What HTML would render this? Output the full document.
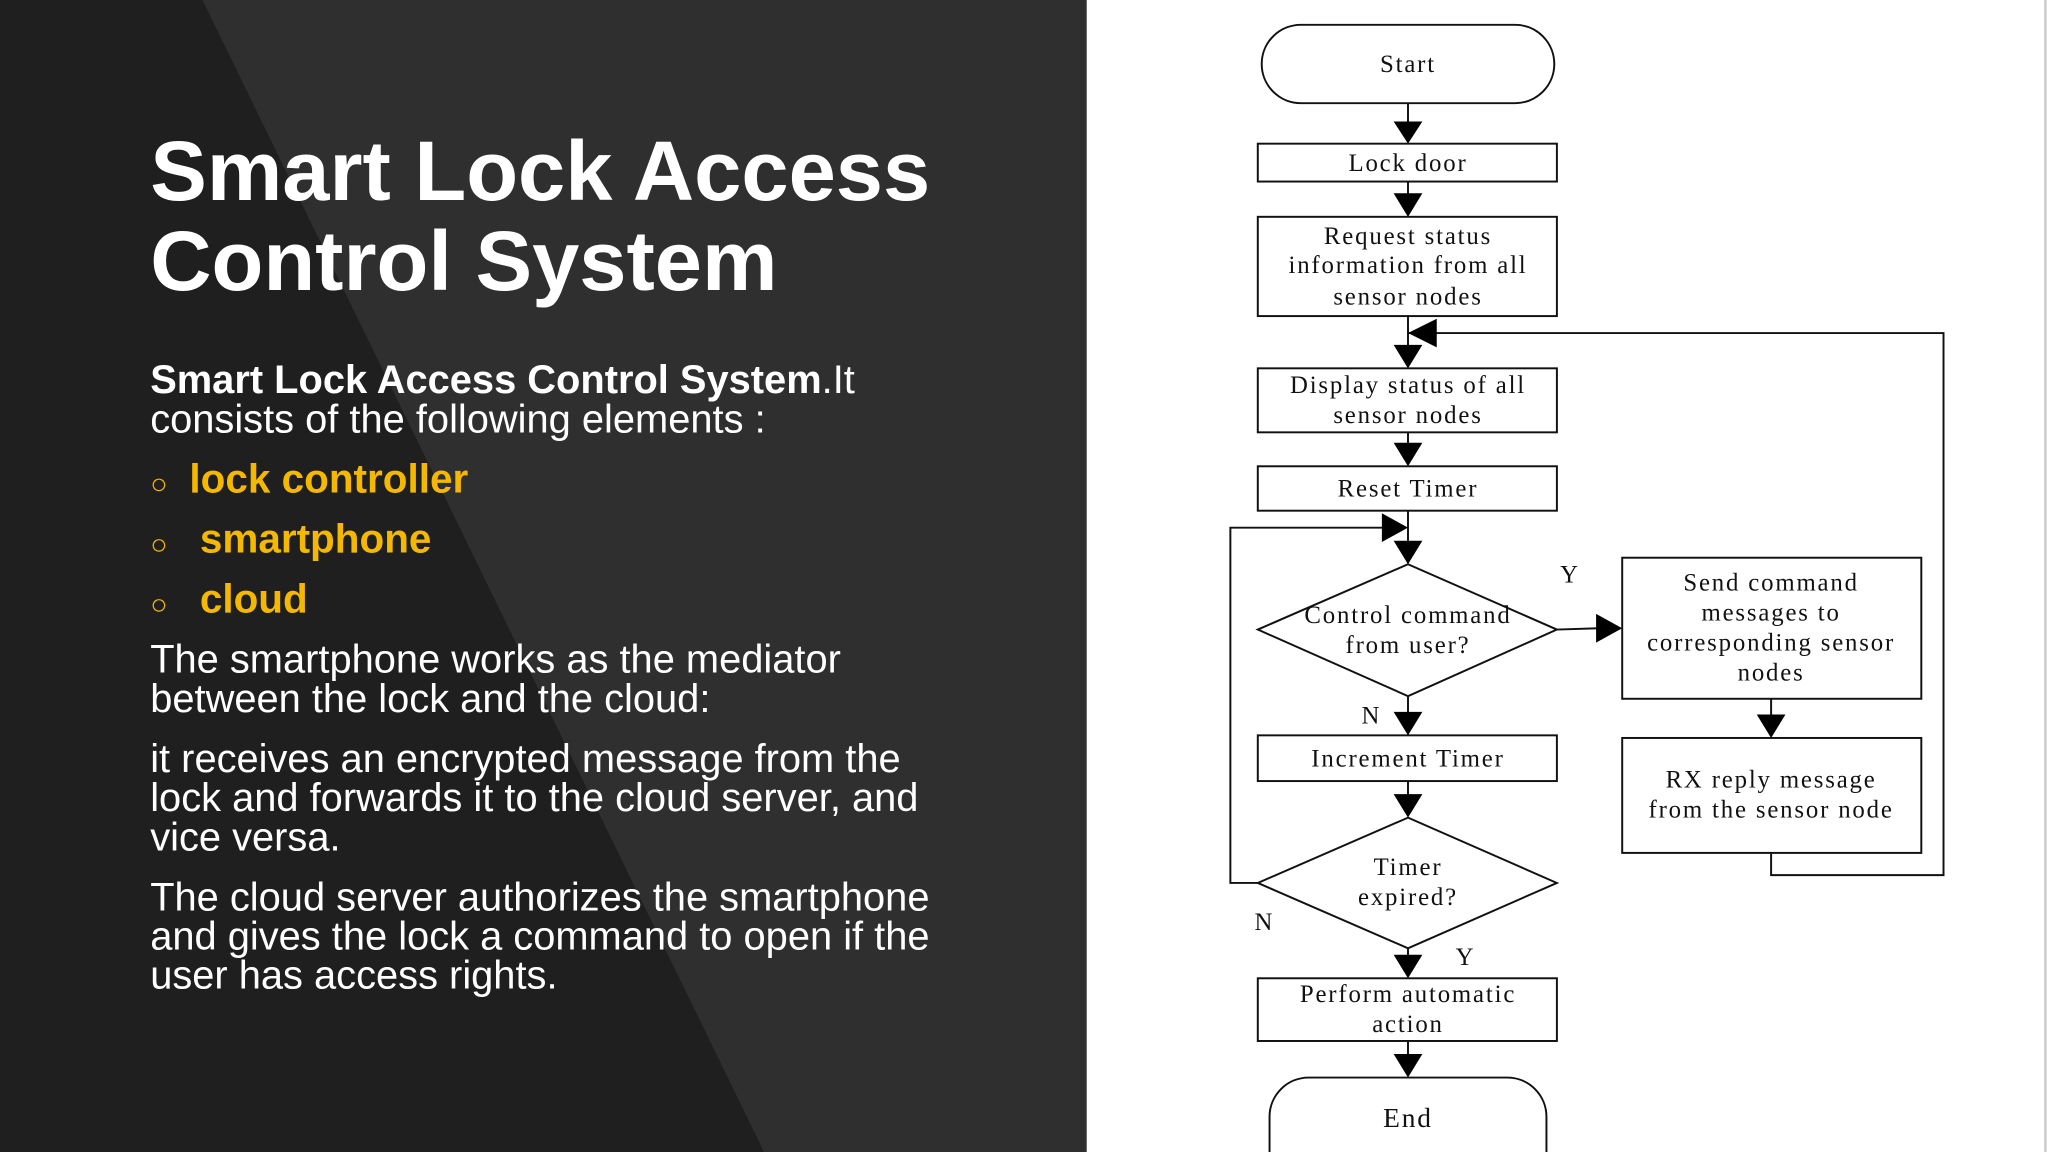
<!DOCTYPE html>
<html><head><meta charset="utf-8"><style>html,body{margin:0;padding:0;background:#fff}svg{display:block}</style></head><body>
<svg width="2048" height="1152" viewBox="0 0 1568 882" xmlns="http://www.w3.org/2000/svg">
<rect x="0" y="0" width="1568" height="882" fill="#ffffff"/>
<rect x="0" y="0" width="832" height="882" fill="#2f2f2f"/>
<polygon points="0,0 155,0 585,882 0,882" fill="#1f1f1f"/>
<line x1="1566" y1="0" x2="1566" y2="882" stroke="#cfcfcf" stroke-width="2"/>
<g font-family="'Liberation Sans',Arial,sans-serif" fill="#fff">
<text x="115" y="153" font-size="65" font-weight="bold">Smart Lock Access</text>
<text x="115" y="222" font-size="65" font-weight="bold">Control System</text>
<text x="115" y="301" font-size="30.5"><tspan font-weight="bold">Smart Lock Access Control System</tspan>.It</text>
<text x="115" y="331" font-size="30.5">consists of the following elements :</text>
<g fill="#f5b800"><text x="115" y="378" font-size="22">○</text><text x="145" y="377" font-size="31" font-weight="bold">lock controller</text>
<text x="115" y="424" font-size="22">○</text><text x="153" y="423" font-size="31" font-weight="bold">smartphone</text>
<text x="115" y="470" font-size="22">○</text><text x="153" y="469" font-size="31" font-weight="bold">cloud</text></g>
<text x="115" y="515" font-size="30.5">The smartphone works as the mediator</text>
<text x="115" y="545" font-size="30.5">between the lock and the cloud:</text>
<text x="115" y="591" font-size="30.5">it receives an encrypted message from the</text>
<text x="115" y="621" font-size="30.5">lock and forwards it to the cloud server, and</text>
<text x="115" y="651" font-size="30.5">vice versa.</text>
<text x="115" y="697" font-size="30.5">The cloud server authorizes the smartphone</text>
<text x="115" y="727" font-size="30.5">and gives the lock a command to open if the</text>
<text x="115" y="757" font-size="30.5">user has access rights.</text>
</g>
<g fill="none" stroke="#111" stroke-width="1.5">
<rect x="966" y="19" width="224" height="60" rx="30"/>
<rect x="963" y="110" width="229" height="29"/>
<rect x="963" y="166" width="229" height="76"/>
<rect x="963" y="282" width="229" height="49"/>
<rect x="963" y="357" width="229" height="34"/>
<polygon points="1078,432 1192,482 1078,533 963,482"/>
<rect x="1242" y="427" width="229" height="108"/>
<rect x="1242" y="565" width="229" height="88"/>
<rect x="963" y="563" width="229" height="35"/>
<polygon points="1078,626 1192,676 1078,726 963,676"/>
<rect x="963" y="749" width="229" height="48"/>
<path d="M972,882 L972,855 A30,30 0 0 1 1002,825 L1154,825 A30,30 0 0 1 1184,855 L1184,882"/>
<path d="M1078,79V95 M1078,139V150 M1078,242V266 M1078,331V341 M1078,391V414 M1078,533V546 M1078,598V610 M1078,726V733 M1078,797V808 M1356,535V548"/>
<path d="M1078,255H1488V670H1356V653"/>
<path d="M963,676H942V404H1060"/>
<path d="M1192,482L1224,481"/>
</g>
<g fill="#000">
<polygon points="1067,93 1089,93 1078,110"/>
<polygon points="1067,148 1089,148 1078,166"/>
<polygon points="1067,264 1089,264 1078,282"/>
<polygon points="1067,339 1089,339 1078,357"/>
<polygon points="1067,414 1089,414 1078,432"/>
<polygon points="1067,545 1089,545 1078,563"/>
<polygon points="1067,608 1089,608 1078,626"/>
<polygon points="1067,731 1089,731 1078,749"/>
<polygon points="1067,807 1089,807 1078,825"/>
<polygon points="1345,547 1367,547 1356,565"/>
<polygon points="1100,244 1100,266 1078,255"/>
<polygon points="1058,393 1058,415 1078,404"/>
<polygon points="1222,470 1222,492 1242,481"/>
</g>
<g font-family="'Liberation Serif','Times New Roman',serif" font-size="19" fill="#111" text-anchor="middle" letter-spacing="1.4">
<text x="1078" y="55">Start</text>
<text x="1078" y="131">Lock door</text>
<text x="1078" y="187">Request status</text>
<text x="1078" y="209">information from all</text>
<text x="1078" y="233">sensor nodes</text>
<text x="1078" y="301">Display status of all</text>
<text x="1078" y="324">sensor nodes</text>
<text x="1078" y="380">Reset Timer</text>
<text x="1078" y="477">Control command</text>
<text x="1078" y="500">from user?</text>
<text x="1356" y="452">Send command</text>
<text x="1356" y="475">messages to</text>
<text x="1356" y="498">corresponding sensor</text>
<text x="1356" y="521">nodes</text>
<text x="1356" y="603">RX reply message</text>
<text x="1356" y="626">from the sensor node</text>
<text x="1078" y="587">Increment Timer</text>
<text x="1078" y="670">Timer</text>
<text x="1078" y="693">expired?</text>
<text x="1078" y="767">Perform automatic</text>
<text x="1078" y="790">action</text>
<text x="1078" y="863" font-size="21">End</text>
<text x="1202" y="446">Y</text>
<text x="1050" y="554">N</text>
<text x="968" y="712">N</text>
<text x="1122" y="739">Y</text>
</g>
</svg>
</body></html>
